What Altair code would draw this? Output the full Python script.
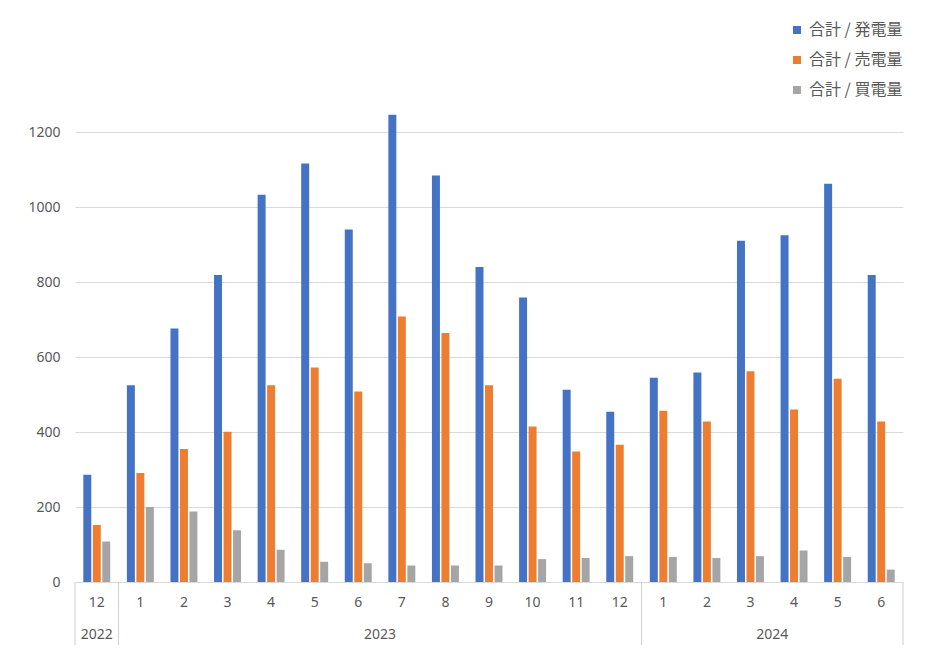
import altair as alt
import pandas as pd

# ---- data ----
years = ["2022", "2023", "2023", "2023", "2023", "2023", "2023", "2023", "2023", "2023",
         "2023", "2023", "2023", "2024", "2024", "2024", "2024", "2024", "2024"]
months = ["12", "1", "2", "3", "4", "5", "6", "7", "8", "9", "10", "11", "12",
          "1", "2", "3", "4", "5", "6"]
generation = [286, 525, 676, 819, 1033, 1116, 940, 1246, 1084, 840, 759, 513, 454,
              545, 559, 910, 925, 1062, 819]
sold = [152, 291, 355, 401, 525, 572, 508, 708, 664, 525, 415, 348, 366,
        457, 428, 562, 460, 542, 428]
bought = [108, 200, 188, 138, 86, 54, 50, 44, 44, 44, 61, 64, 69,
          67, 64, 69, 84, 67, 33]

series_names = ["合計 / 発電量", "合計 / 売電量", "合計 / 買電量"]
series_colors = ["#4472C4", "#ED7D31", "#A5A5A5"]
y_ticks = [0, 200, 400, 600, 800, 1000, 1200]

year_labels = ["2022", "2023", "2024"]
year_center_keys = ["2022-12", "2023-06", "2024-03"]   # 2022: band centre; others: band right edge
sep_left_keys = ["2022-12", "2023-01", "2024-01"]
sep_right_keys = ["2024-06"]

# ---- tables ----
keys = [f"{y}-{int(m):02d}" for y, m in zip(years, months)]
wide = pd.DataFrame({"key": keys, "year": years, "month": months})
rows = []
for name, vals in zip(series_names, [generation, sold, bought]):
    for k, v in zip(keys, vals):
        rows.append({"key": k, "series": name, "value": v})
long = pd.DataFrame(rows)

W, H = 828, 525
TEXT = "#595959"
LINE = "#d9d9d9"

xscale = alt.Scale(domain=keys, paddingInner=0, paddingOuter=0)

bars = alt.Chart(long).mark_bar().encode(
    x=alt.X("key:N", scale=xscale, axis=None),
    xOffset=alt.XOffset("series:N", scale=alt.Scale(domain=series_names,
                                                    paddingInner=0.16, paddingOuter=0.875)),
    y=alt.Y("value:Q", scale=alt.Scale(domain=[0, 1400], nice=False),
            axis=alt.Axis(values=y_ticks, format="d", grid=True, ticks=False, domain=False,
                          labelPadding=15, gridColor=LINE, labelColor=TEXT,
                          labelFontSize=14, labelFont="Noto Sans", title=None)),
    color=alt.Color("series:N", scale=alt.Scale(domain=series_names, range=series_colors),
                    legend=alt.Legend(title=None, orient="none", legendX=714, legendY=-35,
                                      symbolType="square", symbolSize=64, symbolStrokeWidth=0,
                                      labelFontSize=16, labelFont="Noto Sans CJK JP",
                                      labelColor=TEXT, labelOffset=4, rowPadding=14,
                                      padding=0)),
)

month_text = alt.Chart(wide).mark_text(fontSize=14, font="Noto Sans", color=TEXT,
                                       baseline="middle").encode(
    x=alt.X("key:N", scale=xscale, axis=None),
    y=alt.value(H + 21),
    text="month:N",
)

yr = pd.DataFrame({"key": year_center_keys, "label": year_labels})
year_text_c = alt.Chart(yr.iloc[:1]).mark_text(fontSize=14, font="Noto Sans", color=TEXT,
                                               baseline="middle").encode(
    x=alt.X("key:N", scale=xscale, axis=None),
    y=alt.value(H + 53),
    text="label:N",
)
year_text_r = alt.Chart(yr.iloc[1:]).mark_text(fontSize=14, font="Noto Sans", color=TEXT,
                                               baseline="middle").encode(
    x=alt.X("key:N", scale=xscale, axis=None, bandPosition=1),
    y=alt.value(H + 53),
    text="label:N",
)

sep_l = alt.Chart(pd.DataFrame({"key": sep_left_keys})).mark_rule(color="#d0d0d0").encode(
    x=alt.X("key:N", scale=xscale, axis=None, bandPosition=0),
    y=alt.value(H), y2=alt.value(H + 63),
)
sep_r = alt.Chart(pd.DataFrame({"key": sep_right_keys})).mark_rule(color="#d0d0d0").encode(
    x=alt.X("key:N", scale=xscale, axis=None, bandPosition=1),
    y=alt.value(H), y2=alt.value(H + 63),
)

chart = alt.layer(bars, month_text, year_text_c, year_text_r, sep_l, sep_r).properties(
    width=W, height=H,
    autosize=alt.AutoSizeParams(type="none"),
    padding={"left": 67, "top": 49, "right": 20, "bottom": 70},
    background="white",
).configure_view(stroke=None)

chart.save("out.html", embed_options={"renderer": "svg", "actions": False})
